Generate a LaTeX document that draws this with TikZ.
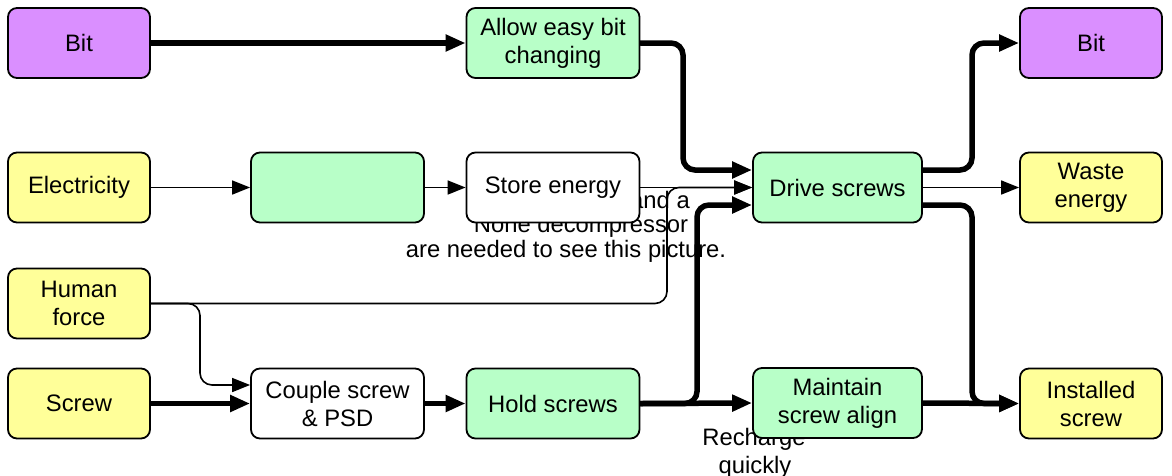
\documentclass[tikz,border=0pt]{standalone}
\usepackage{fontspec}
\setmainfont{Liberation Sans}
\usetikzlibrary{arrows.meta,calc}
\pgfdeclarelayer{paper}
\pgfdeclarelayer{textlayer}
\pgfdeclarelayer{wires}
\pgfsetlayers{paper,textlayer,wires,main}

\definecolor{bitpurple}{RGB}{218,143,255}
\definecolor{flowyellow}{RGB}{255,255,153}
\definecolor{funcgreen}{RGB}{184,255,200}

\begin{document}
\begin{tikzpicture}[x=1pt,y=-1pt,
  every node/.style={font=\fontsize{23.8}{28}\selectfont},
  box/.style={draw=black, line width=1.8pt, rounded corners=9pt,
    minimum height=70pt, align=center, inner sep=0pt},
  sidebox/.style={box, minimum width=142pt},
  midbox/.style={box, minimum width=173pt},
  drivebox/.style={box, minimum width=169pt},
  purplebox/.style={sidebox, fill=bitpurple},
  yellowbox/.style={sidebox, fill=flowyellow},
  greenbox/.style={midbox, fill=funcgreen},
  whitebox/.style={midbox, fill=white},
  thickwire/.style={line width=5.5pt, line cap=round, rounded corners=12pt,
    -{Triangle[length=20pt,width=16pt]}},
  thinwire/.style={line width=1.6pt, rounded corners=12pt,
    -{Triangle[length=18pt,width=14pt]}},
  note/.style={inner sep=0pt}
]
\useasboundingbox (0,0) rectangle (1172,475);
\begin{pgfonlayer}{paper}
\fill[white] (0,0) rectangle (1172,475);
\end{pgfonlayer}

% inputs
\node[purplebox] (bitL)  at (79,43)    {Bit};
\node[yellowbox] (elec)  at (79,187.5) {Electricity};
\node[yellowbox] (human) at (79,303.5) {Human\\force};
\node[yellowbox] (screw) at (79,403.5) {Screw};

% functions
\node[greenbox] (gbox)   at (337.5,187.5) {};
\node[whitebox] (couple) at (337.5,403.5) {Couple screw\\\& PSD};
\node[greenbox] (allow)  at (553,43)      {Allow easy bit\\changing};
\node[whitebox] (store)  at (553,187.5)   {Store energy};
\node[greenbox] (hold)   at (553,403.5)   {Hold screws};
\node[drivebox, fill=funcgreen] (drive)    at (837.5,187.5) {Drive screws};
\node[drivebox, fill=funcgreen] (maintain) at (837.5,403)   {Maintain\\screw align};

% outputs
\node[purplebox] (bitR)      at (1091,43)    {Bit};
\node[yellowbox] (waste)     at (1091,187.5) {Waste\\energy};
\node[yellowbox] (installed) at (1091,403.5) {Installed\\screw};

% loose labels, behind the wires and boxes
\begin{pgfonlayer}{textlayer}
\node[note, anchor=base east] (qt1) at (690,208) {QuickTime™ and a};
\node[note, anchor=base] (qt2) at (581,232) {None decompressor};
\node[note, anchor=base] (qt3) at (566,257) {are needed to see this picture.};
\node[note, anchor=base] (rech1) at (754,445) {Recharge};
\node[note, anchor=base] (rech2) at (755,473) {quickly};
\end{pgfonlayer}

% bend positions of the elbow connectors
\coordinate (busA) at (683,0);
\coordinate (busB) at (667,0);
\coordinate (busC) at (200,0);
\coordinate (busD) at (697,0);
\coordinate (busE) at (972,0);
\coordinate (drivein1)  at ($(drive.west)+(0,-17.5)$);
\coordinate (drivein3)  at ($(drive.west)+(0,17.5)$);
\coordinate (driveout1) at ($(drive.east)+(0,-17.5)$);
\coordinate (driveout3) at ($(drive.east)+(0,17.5)$);
\coordinate (couplein)  at ($(couple.west)+(0,-18.5)$);

\begin{pgfonlayer}{wires}
\draw[thickwire] (bitL.east) -- (allow.west);
\draw[thickwire] (allow.east) -- (allow.east -| busA) -- (busA |- drivein1) -- (drivein1);
\draw[thinwire] (elec.east) -- (gbox.west);
\draw[thinwire] (gbox.east) -- (store.west);
\draw[thinwire] (store.east) -- (drive.west);
\draw[thinwire] (human.east) -- (human.east -| busB) -- (busB |- drive.west) -- (drive.west);
\draw[thinwire] (human.east) -- (human.east -| busC) -- (busC |- couplein) -- (couplein);
\draw[thickwire] (screw.east) -- (couple.west);
\draw[thickwire] (couple.east) -- (hold.west);
\draw[thickwire] (hold.east) -- (maintain.west);
\draw[thickwire] (hold.east) -- (hold.east -| busD) -- (busD |- drivein3) -- (drivein3);
\draw[thickwire] (driveout1) -- (driveout1 -| busE) -- (busE |- bitR.west) -- (bitR.west);
\draw[thinwire] (drive.east) -- (waste.west);
\draw[thickwire] (driveout3) -- (driveout3 -| busE) -- (busE |- installed.west) -- (installed.west);
\draw[thickwire] (maintain.east) -- (installed.west);
\end{pgfonlayer}
\end{tikzpicture}
\end{document}
